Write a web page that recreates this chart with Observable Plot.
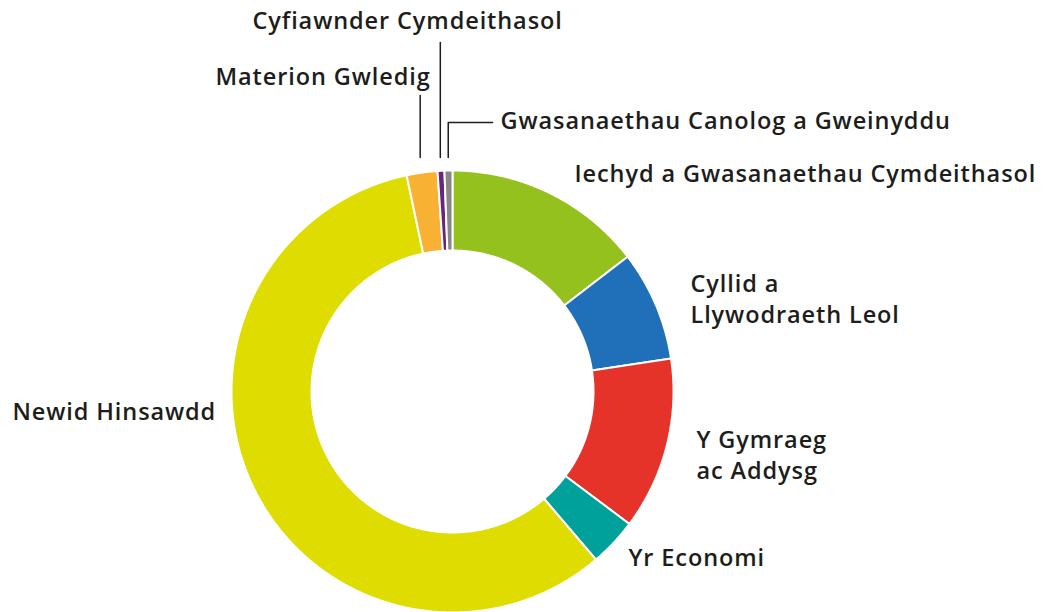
<!DOCTYPE html>
<html><head><meta charset="utf-8">
<script src="https://cdn.jsdelivr.net/npm/d3@7"></script>
<script src="https://cdn.jsdelivr.net/npm/@observablehq/plot@0.6"></script>
<style>body{margin:0;background:#fff} #chart svg{display:block}</style>
</head><body><div id="chart"></div>
<script>
// Data (percent share, clockwise from 12 o'clock)
const categories = [
  "Iechyd a Gwasanaethau Cymdeithasol",
  "Cyllid a Llywodraeth Leol",
  "Y Gymraeg ac Addysg",
  "Yr Economi",
  "Newid Hinsawdd",
  "Materion Gwledig",
  "Cyfiawnder Cymdeithasol",
  "Gwasanaethau Canolog a Gweinyddu"
];
const values = [14.56, 8.06, 12.61, 3.53, 57.92, 2.25, 0.5, 0.58];
const colors = ["#95C11F", "#1F70B8", "#E6332A", "#00A19A", "#DEDC00", "#F8B133", "#662483", "#878787"];
const labelTexts = [
  "Iechyd a Gwasanaethau Cymdeithasol",
  "Cyllid a\nLlywodraeth Leol",
  "Y Gymraeg\nac Addysg",
  "Yr Economi",
  "Newid Hinsawdd",
  "Materion Gwledig",
  "Cyfiawnder Cymdeithasol",
  "Gwasanaethau Canolog a Gweinyddu"
];

// Layout (pixels)
const W = 1045, H = 612;
const cx = 452, cy = 391, R0 = 141, R1 = 221;
const labelLeft = [574, 690, 696, 628, 12, 215, 252, 500];
const labelMidY = [171.5, 297, 453, 555.5, 409.5, 74.5, 18.5, 118.5];
const leaderTop = {5: 95, 6: 42, 7: 122};
const leaderBottom = 157;
const leaderElbowX = 492;

const px = x => x - cx;
const py = y => cy - y;

const arcs = d3.pie().sort(null).value(d => d)(values);
const ring = [];
arcs.forEach((a, i) => {
  const key = categories[i];
  const n = Math.max(4, Math.ceil((a.endAngle - a.startAngle) / (Math.PI / 360)));
  for (let k = 0; k <= n; k++) {
    const t = a.startAngle + (a.endAngle - a.startAngle) * k / n;
    ring.push({key, x: R1 * Math.sin(t), y: R1 * Math.cos(t)});
  }
  for (let k = n; k >= 0; k--) {
    const t = a.startAngle + (a.endAngle - a.startAngle) * k / n;
    ring.push({key, x: R0 * Math.sin(t), y: R0 * Math.cos(t)});
  }
});

const labels = categories.map((c, i) => ({key: c, text: labelTexts[i], x: px(labelLeft[i]), y: py(labelMidY[i])}));

const leaders = [];
Object.keys(leaderTop).forEach(k => {
  const i = +k;
  const a = arcs[i];
  const mid = (a.startAngle + a.endAngle) / 2;
  const lx = (cy - leaderBottom) * Math.sin(mid);
  leaders.push({key: categories[i], x: lx, y: py(leaderBottom)});
  leaders.push({key: categories[i], x: lx, y: py(leaderTop[i])});
  if (i === 7) leaders.push({key: categories[i], x: px(leaderElbowX), y: py(leaderTop[i])});
});

const chart = Plot.plot({
  width: W, height: H,
  margin: 0,
  x: {domain: [px(0), px(W)], axis: null},
  y: {domain: [py(H), py(0)], axis: null},
  color: {domain: categories, range: colors},
  style: {fontFamily: "'Open Sans', sans-serif", background: "#fff", letterSpacing: "0.9px"},
  marks: [
    Plot.line(ring, {x: "x", y: "y", z: "key", fill: "key", stroke: "white", strokeWidth: 2, curve: "linear-closed"}),
    Plot.line(leaders, {x: "x", y: "y", z: "key", stroke: "#1d1d1b", strokeWidth: 1.5}),
    Plot.text(labels, {x: "x", y: "y", text: "text", textAnchor: "start", fontSize: 23.5, fontWeight: 600, fill: "#1d1d1b", lineHeight: 1.33})
  ]
});
document.getElementById("chart").appendChild(chart);
</script>
</body></html>
